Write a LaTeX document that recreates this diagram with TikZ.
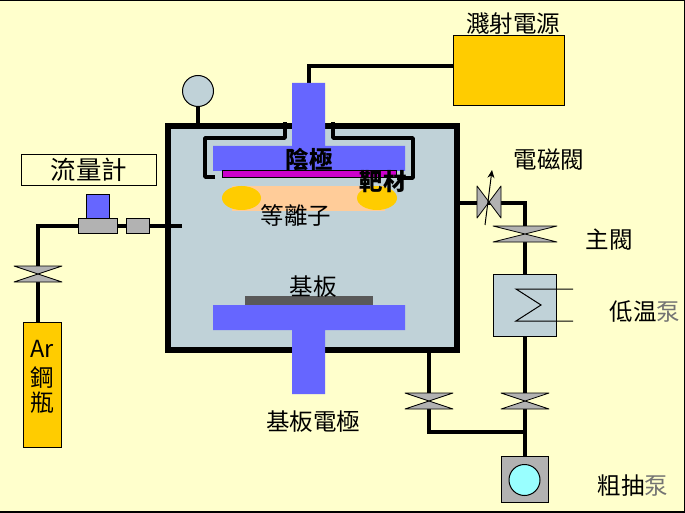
\documentclass[tikz,border=0pt]{standalone}
\usepackage{fontspec}
\usetikzlibrary{arrows.meta}
\setmainfont{Noto Sans CJK TC}
\definecolor{bgc}{HTML}{FFFFCC}
\definecolor{chamberc}{HTML}{C0D2D8}
\definecolor{bluec}{HTML}{6666FF}
\definecolor{goldc}{HTML}{FFCC00}
\definecolor{grayc}{HTML}{B2B2B2}
\definecolor{peachc}{HTML}{FFCC99}
\definecolor{magc}{HTML}{CC00CC}
\definecolor{cyanc}{HTML}{99FFFF}
\tikzset{
  every node/.style={outer sep=0pt},
  pipe/.style={line width=4pt,line join=miter},
  thinbox/.style={draw=black,line width=1pt,inner sep=0pt},
  graybox/.style={fill=grayc,draw=black,line width=1pt},
  lbl/.style={font=\fontsize{23.5}{26}\selectfont,text=black,inner sep=0pt},
  boldlbl/.style={font=\fontsize{23.5}{26}\selectfont\bfseries,text=black,inner sep=0pt},
  valve/.style={fill=grayc,draw=black,line width=.8pt,line join=round},
}
\newcommand{\hvalve}[3]{% centre x,y, half-width
  \draw[valve] (#1-#3,#2-8) -- (#1+#3,#2-8) -- (#1-#3,#2+8) -- (#1+#3,#2+8) -- cycle;}
\begin{document}
\begin{tikzpicture}[x=1pt,y=-1pt]
\useasboundingbox (0,0) rectangle (685,513);
\fill[bgc] (0,0) rectangle (685,513);
\draw[black,line width=1pt] (0,0.5) -- (685,0.5);
\draw[black,line width=1pt] (684.5,0) -- (684.5,513);
\draw[black,line width=2pt] (0,512) -- (685,512);
% pipes behind components
\coordinate (gasend) at (182,226);
\coordinate (bottleTop) at (38,322);
\draw[pipe] (gasend) -- (38,226) -- (bottleTop);
\coordinate (gaugeBase) at (198,125);
\coordinate (gaugeC) at (198,91);
\draw[pipe] (gaugeC) -- (gaugeBase);
\draw[pipe] (309,86) -- (309,66) -- (455,66);
\draw[pipe] (460,203) -- (525,203) -- (525,276);
\draw[pipe] (525,336) -- (525,459);
\draw[pipe] (429,350) -- (429,432) -- (525,432);
% chamber
\node[draw=black,fill=chamberc,line width=5.5pt,minimum width=289pt,minimum height=224pt,inner sep=0pt,anchor=north west] (chamber) at (168,126) {};
\draw[line width=4pt] (gasend) -- (166,226);
% cathode
\fill[bluec] (292,83) rectangle (325,146) (213,146) rectangle (405,171);
% shield
\draw[line width=3.5pt,line join=round] (215,177) -- (205,177) -- (205,138) -- (285,138) -- (285,122);
\draw[line width=3.5pt,line join=round] (333,122) -- (333,138) -- (413,138) -- (413,178) -- (397,178);
% plasma
\fill[peachc] (232,186) rectangle (385,211);
\fill[goldc] (241.5,198) ellipse [x radius=19.5,y radius=12];
\fill[goldc] (377,198) ellipse [x radius=20,y radius=12];
% target
\draw[fill=magc,draw=black,line width=1pt] (222.5,170.5) rectangle (396.5,177.5);
% substrate
\fill[black!65] (245,296) rectangle (373,305);
\fill[bluec] (213,305) rectangle (405,330) (292,330) rectangle (325,394);
% gauge
\node[circle,draw=black,fill=chamberc,line width=1pt,minimum size=31pt,inner sep=0] (gauge) at (gaugeC) {};
% power supply
\node[thinbox,fill=goldc,minimum width=111pt,minimum height=70pt,anchor=north west] (power) at (453.5,36) {};
\node[lbl] at (513,24) {濺射電源};
% flow meter
\node[thinbox,minimum width=135pt,minimum height=31pt,anchor=north west,fill=bgc,lbl,font=\fontsize{25.5}{28}\selectfont] (mfclabel) at (21.5,154.5) {流量計};
\draw[graybox] (78.5,218.5) rectangle (117.5,233);
\draw[fill=bluec,draw=black,line width=1pt] (86.5,194.5) rectangle (109.5,218);
\draw[graybox] (126.5,218.5) rectangle (149.5,233);
\hvalve{38}{274}{24}
% bottle
\node[thinbox,fill=goldc,minimum width=38pt,minimum height=125pt,anchor=north west] (bottle) at (23,322) {};
\node[lbl] at (42,349) {Ar};
\node[lbl] at (42,378) {鋼};
\node[lbl] at (42,403) {瓶};
% electromagnetic valve
\draw[valve] (477,186) -- (501,218) -- (501,186) -- (477,218) -- cycle;
\coordinate (arrS) at (485,225);
\coordinate (arrE) at (492,170);
\draw[line width=1pt,-{Stealth[length=8pt,width=7pt]}] (arrS) -- (arrE);
\node[lbl] at (549,160) {電磁閥};
\hvalve{525}{234}{32}
\node[lbl] at (609,240) {主閥};
% cryo pump
\node[thinbox,fill=chamberc,minimum width=63pt,minimum height=62pt,anchor=north west] (cryo) at (493.5,274.5) {};
\draw[line width=1pt] (573,289) -- (516,289) -- (541,305) -- (516,321) -- (573,321);
\node[lbl] at (645,311) {低温\textcolor{black!55}{泵}};
% lower valves
\hvalve{429}{401}{24}
\hvalve{525}{401}{24}
% rough pump
\node[graybox,minimum width=47pt,minimum height=46pt,inner sep=0pt,anchor=north west] (rough) at (501.5,456.5) {};
\node[circle,draw=black,fill=cyanc,line width=1pt,minimum size=31pt,inner sep=0] at (524.5,480) {};
\node[lbl] at (633,486) {粗抽\textcolor{black!55}{泵}};
% texts
\node[boldlbl] at (309,160) {陰極};
\node[boldlbl] at (383,182) {靶材};
\node[lbl] at (296,215) {等離子};
\node[lbl] at (313,287) {基板};
\node[lbl] at (313,422) {基板電極};
\end{tikzpicture}
\end{document}
